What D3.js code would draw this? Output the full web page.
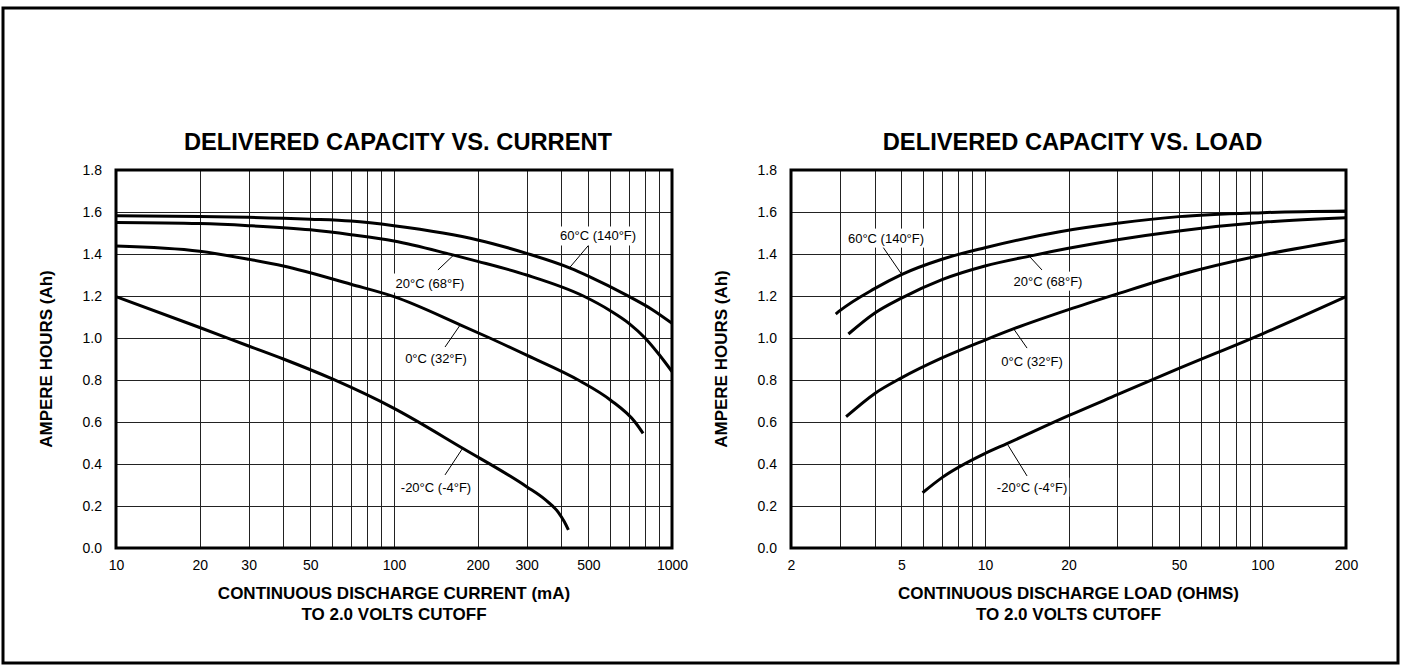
<!DOCTYPE html>
<html>
<head>
<meta charset="utf-8">
<script src="https://cdn.jsdelivr.net/npm/d3@7"></script>
<style>
body { margin: 0; background: #fff; }
text { font-family: Arial, "Liberation Sans", Helvetica, sans-serif; fill: #000; }
</style>
</head>
<body>
<svg id="chart" width="1403" height="671"></svg>
<script>
"use strict";

// capacity (Ah) vs. continuous discharge current (mA)
const cur60C = [[10,1.582],[20,1.579],[30,1.575],[50,1.566],[70,1.557],[100,1.535],[150,1.5],[200,1.467],[300,1.403],[430,1.333],[500,1.295],[700,1.198],[850,1.135],[1000,1.07]];
const cur20C = [[10,1.55],[20,1.545],[30,1.535],[50,1.515],[70,1.492],[100,1.462],[160,1.398],[200,1.365],[300,1.3],[480,1.2],[600,1.13],[700,1.07],[800,1.0],[900,0.92],[1000,0.84]];
const cur0C = [[10,1.438],[20,1.413],[30,1.375],[40,1.343],[70,1.256],[100,1.197],[173,1.063],[221,1.0],[300,0.918],[467,0.795],[600,0.705],[736,0.6],[787,0.546]];
const curM20C = [[10,1.197],[20,1.05],[30,0.962],[40,0.9],[60,0.805],[100,0.665],[176.6,0.475],[300,0.292],[350,0.23],[390,0.17],[410,0.125],[424,0.086]];

// capacity (Ah) vs. continuous discharge load (ohms)
const load60C = [[2.9,1.114],[3,1.13],[4,1.235],[5,1.302],[7,1.375],[10,1.43],[18.6,1.506],[30,1.546],[50,1.578],[100,1.597],[200,1.605]];
const load20C = [[3.22,1.019],[4,1.118],[5,1.19],[7,1.278],[10,1.343],[14.5,1.39],[20,1.427],[30,1.468],[50,1.51],[100,1.551],[200,1.573]];
const load0C = [[3.16,0.625],[4,0.735],[5,0.81],[7,0.905],[10,0.99],[12.65,1.043],[20,1.135],[30,1.21],[50,1.3],[100,1.395],[200,1.467]];
const loadM20C = [[5.96,0.263],[7,0.335],[10,0.45],[12,0.497],[20,0.63],[30,0.73],[50,0.855],[100,1.02],[200,1.197]];

const tempLabels = ["60°C (140°F)", "20°C (68°F)", "0°C (32°F)", "-20°C (-4°F)"];

const yTicks = [0, 0.2, 0.4, 0.6, 0.8, 1.0, 1.2, 1.4, 1.6, 1.8];
const yGrid = [0.2, 0.4, 0.6, 0.8, 1.0, 1.2, 1.4, 1.6];

const curTicks = [10, 20, 30, 50, 100, 200, 300, 500, 1000];
const curGrid = [20, 30, 40, 50, 60, 70, 80, 90, 100, 200, 300, 400, 500, 600, 700, 800, 900];
const loadTicks = [2, 5, 10, 20, 50, 100, 200];
const loadGrid = [3, 4, 5, 6, 7, 8, 9, 10, 20, 30, 40, 50, 60, 70, 80, 90, 100];

// label anchors: [label centre, leader start, leader end on curve]
const curNotes = [
    [[542, 1.486], [502, 1.443], [427, 1.333]],
    [[134.7, 1.262], [143.9, 1.324], [163, 1.392]],
    [[141.6, 0.905], [152.6, 0.957], [173, 1.062]],
    [[141.6, 0.29], [152.6, 0.348], [176.6, 0.475]]
];
const loadNotes = [
    [[4.4, 1.476], [4.29, 1.433], [5, 1.305]],
    [[16.87, 1.271], [16.05, 1.324], [14.5, 1.387]],
    [[14.78, 0.886], [14.18, 0.952], [12.65, 1.046]],
    [[14.78, 0.29], [14.18, 0.343], [12, 0.498]]
];

const svg = d3.select("#chart");

// outer frame
svg.append("rect")
    .attr("x", 3).attr("y", 8)
    .attr("width", 1395).attr("height", 655)
    .attr("fill", "none")
    .attr("stroke", "#000")
    .attr("stroke-width", 3);

function drawPanel(setting) {
    let left = setting.left, right = setting.right, top = 170, bottom = 548;
    let scaleX = d3.scaleLog().domain(setting.domain).range([left, right]);
    let scaleY = d3.scaleLinear().domain([0, 1.8]).range([bottom, top]);
    let chart = svg.append("g");

    // grid
    chart.append("g")
    .attr("class", "grid")
    .attr("transform", `translate(0, ${bottom})`)
    .call(d3.axisBottom(scaleX)
        .tickValues(setting.grid)
        .tickSize(-(bottom - top))
        .tickFormat(""));
    chart.append("g")
    .attr("class", "grid")
    .attr("transform", `translate(${left}, 0)`)
    .call(d3.axisLeft(scaleY)
        .tickValues(yGrid)
        .tickSize(-(right - left))
        .tickFormat(""));
    chart.selectAll("g.grid .domain").remove();
    chart.selectAll("g.grid line")
    .attr("stroke", "#222")
    .attr("stroke-width", 1)
    .attr("shape-rendering", "crispEdges");

    // tick labels
    let xAxis = chart.append("g")
    .attr("transform", `translate(0, ${bottom})`)
    .call(d3.axisBottom(scaleX)
        .tickValues(setting.ticks)
        .tickSize(0)
        .tickPadding(12)
        .tickFormat(d3.format("d")));
    let yAxis = chart.append("g")
    .attr("transform", `translate(${left}, 0)`)
    .call(d3.axisLeft(scaleY)
        .tickValues(yTicks)
        .tickSize(0)
        .tickPadding(14)
        .tickFormat(d3.format(".1f")));
    [xAxis, yAxis].forEach(function(a) {
        a.select(".domain").remove();
        a.attr("font-family", null).attr("font-size", null);
        a.selectAll("text").style("font-size", "14px").attr("fill", "#000");
    });

    // curve labels: white boxes and leaders
    let notes = chart.append("g");
    setting.notes.forEach(function(n, i) {
        let g = notes.append("g");
        g.append("line")
        .attr("x1", scaleX(n[1][0])).attr("y1", scaleY(n[1][1]))
        .attr("x2", scaleX(n[2][0])).attr("y2", scaleY(n[2][1]))
        .attr("stroke", "#000").attr("stroke-width", 1);
        let t = g.append("text")
        .attr("x", scaleX(n[0][0]))
        .attr("y", scaleY(n[0][1]))
        .attr("dy", "0.35em")
        .attr("text-anchor", "middle")
        .style("font-size", "13px")
        .text(tempLabels[i]);
        let b = t.node().getBBox();
        g.insert("rect", "text")
        .attr("x", b.x - 2).attr("y", b.y - 2)
        .attr("width", b.width + 4).attr("height", b.height + 4)
        .attr("fill", "#fff");
    });

    // curves
    let line = d3.line()
    .x(function(d) { return scaleX(d[0]); })
    .y(function(d) { return scaleY(d[1]); })
    .curve(d3.curveMonotoneX);
    setting.series.forEach(function(s) {
        chart.append("path")
        .datum(s)
        .attr("d", line)
        .attr("fill", "none")
        .attr("stroke", "#000")
        .attr("stroke-width", 3);
    });

    // plot frame
    chart.append("rect")
    .attr("x", left).attr("y", top)
    .attr("width", right - left).attr("height", bottom - top)
    .attr("fill", "none")
    .attr("stroke", "#000")
    .attr("stroke-width", 3);

    // titles
    let mid = (left + right) / 2;
    chart.append("text")
    .attr("x", mid + 4).attr("y", 150)
    .attr("text-anchor", "middle")
    .style("font-size", "23.7px").style("font-weight", "bold")
    .text(setting.title);
    chart.append("text")
    .attr("x", mid).attr("y", 599)
    .attr("text-anchor", "middle")
    .style("font-size", "17px").style("font-weight", "bold")
    .text(setting.xTitle);
    chart.append("text")
    .attr("x", mid).attr("y", 620)
    .attr("text-anchor", "middle")
    .style("font-size", "17px").style("font-weight", "bold")
    .text("TO 2.0 VOLTS CUTOFF");
    chart.append("text")
    .attr("transform", `translate(${left - 64}, ${(top + bottom) / 2}) rotate(-90)`)
    .attr("text-anchor", "middle")
    .style("font-size", "17px").style("font-weight", "bold")
    .text("AMPERE HOURS (Ah)");
}

drawPanel({
    left: 116, right: 672,
    domain: [10, 1000],
    ticks: curTicks, grid: curGrid,
    series: [cur60C, cur20C, cur0C, curM20C],
    notes: curNotes,
    title: "DELIVERED CAPACITY VS. CURRENT",
    xTitle: "CONTINUOUS DISCHARGE CURRENT (mA)"
});
drawPanel({
    left: 791, right: 1346,
    domain: [2, 200],
    ticks: loadTicks, grid: loadGrid,
    series: [load60C, load20C, load0C, loadM20C],
    notes: loadNotes,
    title: "DELIVERED CAPACITY VS. LOAD",
    xTitle: "CONTINUOUS DISCHARGE LOAD (OHMS)"
});
</script>
</body>
</html>
